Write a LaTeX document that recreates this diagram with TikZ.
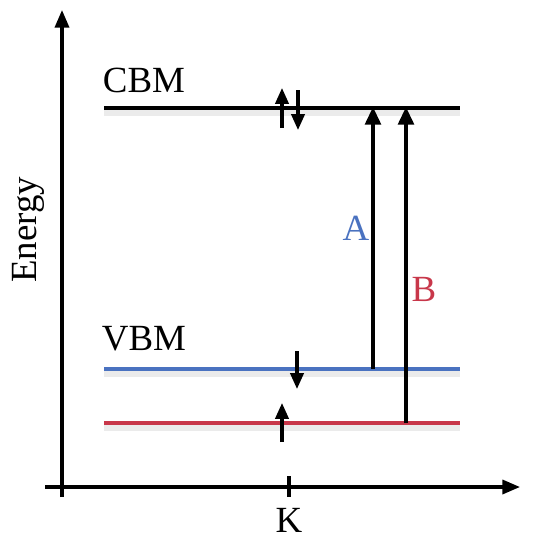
\documentclass[tikz,border=0pt]{standalone}
\usepackage{fontspec}
\setmainfont{Liberation Serif}
\usetikzlibrary{arrows.meta,positioning}
\definecolor{vbmblue}{HTML}{4A72C0}
\definecolor{lowred}{HTML}{C8374A}

\begin{document}
\begin{tikzpicture}[
  x=0.02cm, y=-0.02cm,
  axis/.style={line width=1.8pt, -{Triangle[width=8pt,length=10pt]}},
  level/.style={line width=2pt},
  shade/.style={line width=3pt, gray!16},
  spin/.style={line width=1.8pt, -{Triangle[width=7.5pt,length=9pt]}},
  trans/.style={line width=1.8pt, -{Triangle[width=9pt,length=10pt]}},
  lbl/.style={font=\fontsize{21}{24}\selectfont, inner sep=0pt}
]
  \useasboundingbox (0,0) rectangle (540,542);

  % Axes
  \coordinate (o) at (62,487);
  \coordinate (ytop) at (62,10);
  \coordinate (ybot) at (62,497);
  \coordinate (xleft) at (45,487);
  \coordinate (xright) at (520,487);
  \draw[axis] (ybot) -- (ytop);
  \draw[axis] (xleft) -- (xright);
  \coordinate (kt) at (289,476);
  \coordinate (kb) at (289,497);
  \draw[line width=1.8pt] (kt) -- (kb);
  \node[lbl] (k) at (289,520) {K};
  \node[lbl, rotate=90] (energy) at (28,230) {Energy};

  % Levels with soft shadow
  \coordinate (cl) at (104,108); \coordinate (cr) at (460,108);
  \coordinate (vl) at (104,369); \coordinate (vr) at (460,369);
  \coordinate (rl) at (104,423); \coordinate (rr) at (460,423);
  \draw[shade] ([yshift=-2.8pt]cl) -- ([yshift=-2.8pt]cr);
  \draw[shade] ([yshift=-2.8pt]vl) -- ([yshift=-2.8pt]vr);
  \draw[shade] ([yshift=-2.8pt]rl) -- ([yshift=-2.8pt]rr);
  \draw[level] (cl) -- (cr);
  \draw[level, vbmblue] (vl) -- (vr);
  \draw[level, lowred] (rl) -- (rr);
  \node[lbl] (cbm) at (144,80) {CBM};
  \node[lbl] (vbm) at (144,339) {VBM};

  % Spins
  \coordinate (s1a) at (282,128); \coordinate (s1b) at (282,88);
  \coordinate (s2a) at (298,90);  \coordinate (s2b) at (298,130);
  \coordinate (s3a) at (297,351); \coordinate (s3b) at (297,389);
  \coordinate (s4a) at (282,442); \coordinate (s4b) at (282,403);
  \draw[spin] (s1a) -- (s1b);
  \draw[spin] (s2a) -- (s2b);
  \draw[spin] (s3a) -- (s3b);
  \draw[spin] (s4a) -- (s4b);

  % Transitions
  \coordinate (a0) at (373,369); \coordinate (a1) at (373,107);
  \coordinate (b0) at (406,423); \coordinate (b1) at (406,107);
  \draw[trans] (a0) -- (a1);
  \draw[trans] (b0) -- (b1);
  \node[lbl, vbmblue] (la) at (356,228) {A};
  \node[lbl, lowred] (lb) at (424,289) {B};
\end{tikzpicture}
\end{document}
